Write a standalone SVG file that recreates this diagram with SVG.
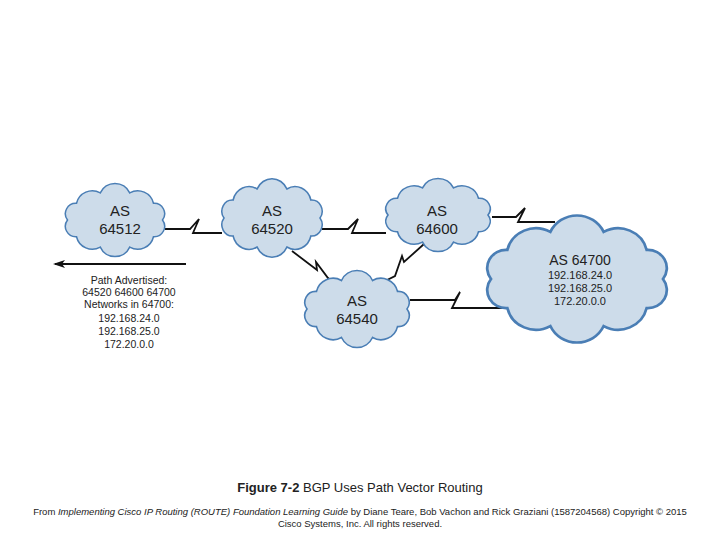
<svg xmlns="http://www.w3.org/2000/svg" width="720" height="540" viewBox="0 0 720 540">
<defs>
<style>
.c{fill:#cddcea;stroke:#4a7eb5;stroke-width:1.6;vector-effect:non-scaling-stroke}
.l{fill:none;stroke:#111;stroke-width:1.8;stroke-linejoin:miter}
.t{font-family:"Liberation Sans",Arial,sans-serif;fill:#222;text-anchor:middle}
</style>
<path id="cl" d="M50,0 A11,11 0 0 1 40.5,17.6 A17,17 0 0 1 15.5,28.5 A17,17 0 0 1 -15.5,28.5 A17,17 0 0 1 -40.5,17.6 A11,11 0 0 1 -50,0 A11,11 0 0 1 -40.5,-17.6 A17,17 0 0 1 -15.5,-28.5 A17,17 0 0 1 15.5,-28.5 A17,17 0 0 1 40.5,-17.6 A11,11 0 0 1 50,0 Z"/>
<marker id="ah" markerWidth="12" markerHeight="8" refX="10" refY="4" orient="auto" markerUnits="userSpaceOnUse"><path d="M0,0 L12,4 L0,8 L3,4 Z" fill="#111"/></marker>
</defs>
<rect width="720" height="540" fill="#fff"/>
<g id="connectors">
<polyline class="l" points="165,229 190,229 199,219 193,233 222,233"/>
<polyline class="l" points="322,229 348,229 358,219 352,233 386,233"/>
<polyline class="l" points="492,217 516,217 525,208 518,222 555,222"/>
<polyline class="l" points="292,251 317,270 316,262 328,278 338,286"/>
<polyline class="l" points="424,244 404,262 402,256 395,276 381,283"/>
<polyline class="l" points="410,300 455,300 460,292 452,308 503,308"/>
<line class="l" x1="186" y1="264" x2="55" y2="264" marker-end="url(#ah)"/>
</g>
<g id="as64512"><use href="#cl" class="c" transform="translate(115,220) scale(0.95,0.95)"/>
<text class="t" x="120" y="216" font-size="15">AS</text><text class="t" x="120" y="234" font-size="15">64512</text></g>
<g id="as64520"><use href="#cl" class="c" transform="translate(272,218) scale(0.96,1.02)"/>
<text class="t" x="272" y="216" font-size="15">AS</text><text class="t" x="272" y="234" font-size="15">64520</text></g>
<g id="as64600"><use href="#cl" class="c" transform="translate(438,215) scale(1.0,0.95)"/>
<text class="t" x="437" y="216" font-size="15">AS</text><text class="t" x="437" y="234" font-size="15">64600</text></g>
<g id="as64540"><use href="#cl" class="c" transform="translate(357,309) scale(1.0,1.0)"/>
<text class="t" x="357" y="306" font-size="15">AS</text><text class="t" x="357" y="324" font-size="15">64540</text></g>
<g id="as64700"><use href="#cl" class="c" transform="translate(577,279) scale(1.72,1.65)"/>
<text class="t" x="580" y="265" font-size="14">AS 64700</text>
<text class="t" x="580" y="279" font-size="11">192.168.24.0</text>
<text class="t" x="580" y="292" font-size="11">192.168.25.0</text>
<text class="t" x="580" y="305" font-size="11">172.20.0.0</text></g>
<g id="advert">
<text class="t" x="129" y="284" font-size="10.5">Path Advertised:</text>
<text class="t" x="129" y="296" font-size="10.5">64520 64600 64700</text>
<text class="t" x="129" y="308" font-size="10.5">Networks in 64700:</text>
<text class="t" x="129" y="322" font-size="10.5">192.168.24.0</text>
<text class="t" x="129" y="335" font-size="10.5">192.168.25.0</text>
<text class="t" x="129" y="348" font-size="10.5">172.20.0.0</text>
</g>
<text class="t" x="360" y="492" font-size="13" fill="#000"><tspan font-weight="bold">Figure 7-2</tspan> BGP Uses Path Vector Routing</text>
<text class="t" x="360" y="515" font-size="9.5" fill="#000">From <tspan font-style="italic">Implementing Cisco IP Routing (ROUTE) Foundation Learning Guide</tspan> by Diane Teare, Bob Vachon and Rick Graziani (1587204568) Copyright © 2015</text>
<text class="t" x="360" y="527" font-size="9.5" fill="#000">Cisco Systems, Inc. All rights reserved.</text>
</svg>
